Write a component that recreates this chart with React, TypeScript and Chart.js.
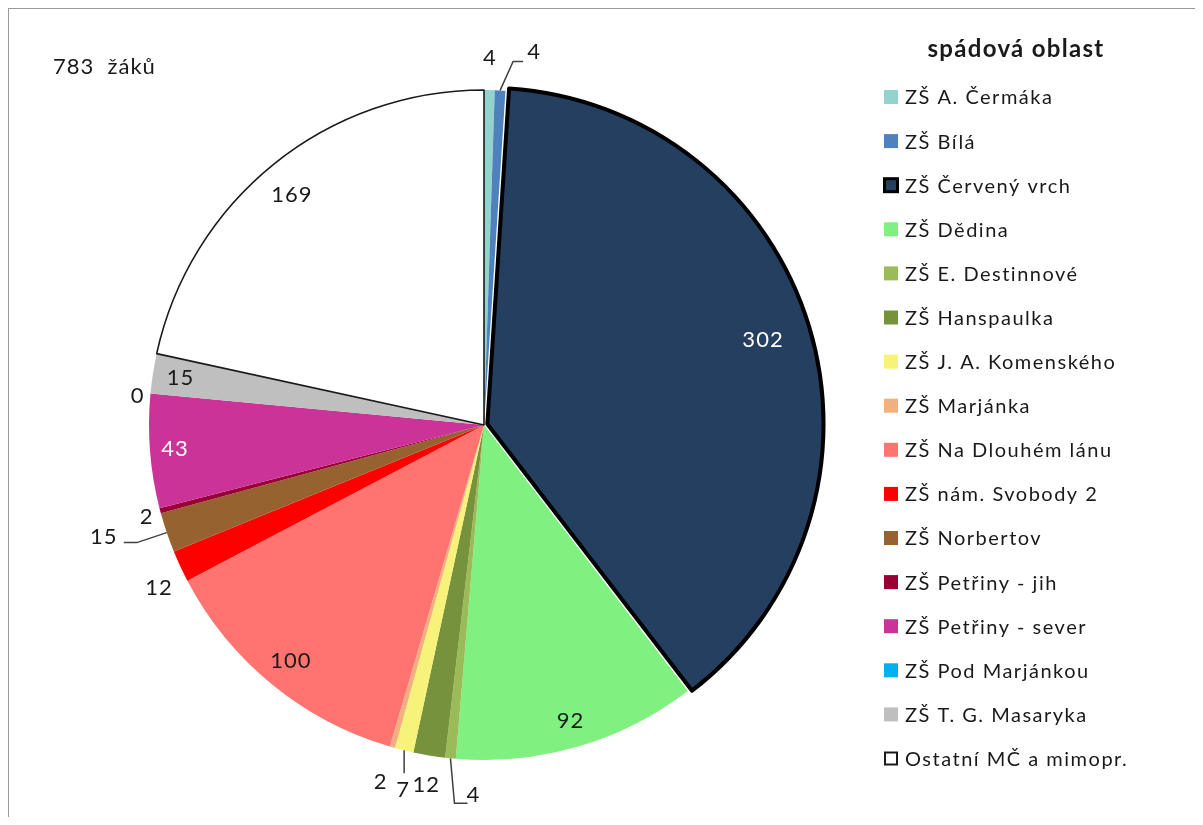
import React, { useEffect, useRef } from 'react';
import { Chart, registerables } from 'chart.js';

Chart.register(...registerables);

// ---------- data ----------
const categories: string[] = [
  'ZŠ A. Čermáka',
  'ZŠ Bílá',
  'ZŠ Červený vrch',
  'ZŠ Dědina',
  'ZŠ E. Destinnové',
  'ZŠ Hanspaulka',
  'ZŠ J. A. Komenského',
  'ZŠ Marjánka',
  'ZŠ Na Dlouhém lánu',
  'ZŠ nám. Svobody 2',
  'ZŠ Norbertov',
  'ZŠ Petřiny - jih',
  'ZŠ Petřiny - sever',
  'ZŠ Pod Marjánkou',
  'ZŠ T. G. Masaryka',
  'Ostatní MČ a mimopr.',
];
const pupils: number[] = [4, 4, 302, 92, 4, 12, 7, 2, 100, 12, 15, 2, 43, 0, 15, 169];
const legendTitle = 'spádová oblast';
const unitLabel = 'žáků';

// ---------- styles ----------
const FONT = 'Lato, "Open Sans", sans-serif';
const sliceColors = [
  '#93D3CE', '#4F81BD', '#243F60', '#80F080', '#9BBB59', '#76923C', '#F7F37A', '#F2B07E',
  '#FF7470', '#FF0000', '#966230', '#990033', '#CC3399', '#00B0F0', '#BFBFBF', '#FFFFFF',
];
const sliceBorderColors = sliceColors.map((_, i) => (i === 2 ? '#000000' : i === 15 ? '#1A1A1A' : '#FFFFFF'));
const sliceBorderWidths = sliceColors.map((_, i) => (i === 2 ? 4 : i === 15 ? 1.6 : 0));
const sliceOffsets = sliceColors.map((_, i) => (i === 2 ? 14 : 0));

type LabelSpec = {
  mode: 'in' | 'out';
  frac?: number;
  gap?: number;
  dx?: number;
  dy?: number;
  leader?: [number, number][];
  color?: string;
};

// label placement relative to each slice (inside fraction of radius, or outside gap / nudges)
const LABEL_LAYOUT: LabelSpec[] = [
  { mode: 'out', gap: 32 },
  { mode: 'out', dx: 34, dy: -38, leader: [[0, 0], [13, -29], [23, -29]] },
  { mode: 'in', frac: 0.86, color: '#FFFFFF' },
  { mode: 'in', frac: 0.92 },
  { mode: 'out', dx: 23, dy: 37, leader: [[0, 0], [4, 45], [17, 45]] },
  { mode: 'out', gap: 30, dx: 2 },
  { mode: 'out', dx: -1, dy: 40, leader: [[0, 0], [0, 23]] },
  { mode: 'out', gap: 36, dx: -2 },
  { mode: 'in', frac: 0.91 },
  { mode: 'out', gap: 29, dx: 5, dy: 9 },
  { mode: 'out', dx: -63, dy: 4, leader: [[0, 0], [-30, 10], [-43, 10]] },
  { mode: 'out', gap: 14, dy: 3 },
  { mode: 'in', frac: 0.925, color: '#FFFFFF' },
  { mode: 'out', gap: 13, dy: 4 },
  { mode: 'in', frac: 0.917 },
  { mode: 'in', frac: 0.9, dx: -3, dy: 5 },
];

const TEXT_COLOR = '#1A1A1A';

const sliceLabelsPlugin = {
  id: 'sliceLabels',
  afterDatasetsDraw(chart: any) {
    const ctx: CanvasRenderingContext2D = chart.ctx;
    const meta = chart.getDatasetMeta(0);
    ctx.save();
    ctx.font = `22px ${FONT}`;
    (ctx as any).letterSpacing = '1px';
    ctx.textAlign = 'center';
    ctx.textBaseline = 'middle';
    meta.data.forEach((arc: any, i: number) => {
      const { x, y, startAngle, endAngle, outerRadius } = arc.getProps(
        ['x', 'y', 'startAngle', 'endAngle', 'outerRadius'],
        true
      );
      const mid = (startAngle + endAngle) / 2;
      const c = Math.cos(mid);
      const s = Math.sin(mid);
      const shift = (sliceOffsets[i] || 0) / 4;
      const cx = x + c * shift;
      const cy = y + s * shift;
      const spec = LABEL_LAYOUT[i];
      let lx: number;
      let ly: number;
      if (spec.mode === 'in') {
        lx = cx + c * outerRadius * (spec.frac || 0.9) + (spec.dx || 0);
        ly = cy + s * outerRadius * (spec.frac || 0.9) + (spec.dy || 0);
      } else if (spec.leader) {
        const ax = cx + c * outerRadius;
        const ay = cy + s * outerRadius;
        ctx.beginPath();
        spec.leader.forEach(([px, py], k) => {
          if (k === 0) ctx.moveTo(ax + px, ay + py);
          else ctx.lineTo(ax + px, ay + py);
        });
        ctx.strokeStyle = '#404040';
        ctx.lineWidth = 1.5;
        ctx.stroke();
        lx = ax + (spec.dx || 0);
        ly = ay + (spec.dy || 0);
      } else {
        lx = cx + c * (outerRadius + (spec.gap || 0)) + (spec.dx || 0);
        ly = cy + s * (outerRadius + (spec.gap || 0)) + (spec.dy || 0);
      }
      ctx.fillStyle = spec.color || TEXT_COLOR;
      ctx.fillText(String(pupils[i]), lx, ly);
    });
    ctx.restore();
  },
};

const legendPlugin = {
  id: 'sideLegend',
  afterDraw(chart: any) {
    const ctx: CanvasRenderingContext2D = chart.ctx;
    const ds = chart.data.datasets[0];
    ctx.save();
    // total
    const total = pupils.reduce((a, b) => a + b, 0);
    ctx.font = `22px ${FONT}`;
    (ctx as any).letterSpacing = '1px';
    ctx.fillStyle = TEXT_COLOR;
    ctx.textAlign = 'left';
    ctx.textBaseline = 'middle';
    ctx.fillText(`${total}  ${unitLabel}`, 44, 58);
    // title
    ctx.font = `bold 24px ${FONT}`;
    (ctx as any).letterSpacing = '1.3px';
    ctx.textAlign = 'center';
    ctx.fillText(legendTitle, 1007, 40);
    // items
    ctx.font = `20px ${FONT}`;
    ctx.textAlign = 'left';
    (ctx as any).letterSpacing = '1.5px';
    const top = 88;
    const step = 44.1;
    chart.data.labels.forEach((label: string, i: number) => {
      const cy = top + i * step;
      const bx = 875;
      const by = cy - 7;
      ctx.fillStyle = ds.backgroundColor[i];
      ctx.fillRect(bx, by, 14, 14);
      if (i === 2) {
        ctx.strokeStyle = '#000';
        ctx.lineWidth = 3;
        ctx.strokeRect(bx + 0.5, by + 0.5, 13, 13);
      } else if (i === 15) {
        ctx.strokeStyle = '#1A1A1A';
        ctx.lineWidth = 2;
        ctx.strokeRect(bx + 1, by + 1, 12, 12);
      }
      ctx.fillStyle = TEXT_COLOR;
      ctx.fillText(label, 896, cy + 1);
    });
    ctx.restore();
  },
};

export default function App() {
  const ref = useRef<HTMLCanvasElement>(null);
  useEffect(() => {
    if (!ref.current) return;
    const chart = new Chart(ref.current, {
      type: 'pie',
      data: {
        labels: categories,
        datasets: [
          {
            data: pupils,
            backgroundColor: sliceColors,
            borderColor: sliceBorderColors,
            borderWidth: sliceBorderWidths,
            offset: sliceOffsets,
            borderJoinStyle: 'round',
          } as any,
        ],
      },
      options: {
        responsive: false,
        animation: false,
        radius: 335,
        layout: { padding: { left: 100, right: 336, top: 30, bottom: 6 } },
        plugins: { legend: { display: false }, tooltip: { enabled: false } },
        events: [],
      } as any,
      plugins: [sliceLabelsPlugin, legendPlugin],
    });
    return () => chart.destroy();
  }, []);
  return (
    <div
      style={{
        width: 1186,
        height: 808,
        borderTop: '1px solid #9A9A9A',
        borderLeft: '1px solid #9A9A9A',
        background: '#FFFFFF',
      }}
    >
      <canvas ref={ref} width={1186} height={808} style={{ display: 'block' }} />
    </div>
  );
}
